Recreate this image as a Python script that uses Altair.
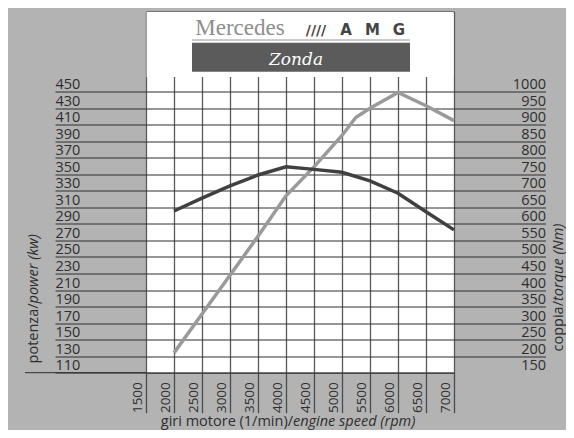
import altair as alt
import pandas as pd

# ---- data ----
rpm_power = [2000, 2500, 3000, 3500, 4000, 4500, 5000, 5250, 5500, 6000, 6500, 7000]
power_kw = [134, 181, 228, 275, 324, 359, 397, 419, 430, 449, 433, 415]
rpm_torque = [2000, 2500, 3000, 3500, 4000, 4500, 5000, 5500, 6000, 6500, 7000]
torque_nm = [639, 678, 715, 748, 773, 765, 756, 730, 693, 637, 582]

power_ticks = list(range(110, 451, 20))
torque_ticks = list(range(150, 1001, 50))
rpm_ticks = list(range(1500, 7001, 500))

power_df = pd.DataFrame({"rpm": rpm_power, "power": power_kw})
torque_df = pd.DataFrame({"rpm": rpm_torque, "torque": torque_nm})
one = pd.DataFrame({"a": [1]})

BG = "#b3b3b3"
INK = "#2e2e2e"
FONT = "Open Sans"

x_scale = alt.Scale(domain=[1500, 7000], nice=False, zero=False)
p_scale = alt.Scale(domain=[110, 547], nice=False, zero=False)
t_scale = alt.Scale(domain=[150, 1242.5], nice=False, zero=False)


def make_x_axis():
    return alt.Axis(values=rpm_ticks, format="d", grid=True, gridColor="#5a5a5a", gridWidth=1.3,
                    domain=False, title=None, tickCount=len(rpm_ticks),
                    tickSize=40, tickColor="#4a4a4a", tickWidth=1.3,
                    labelAngle=270, labelPadding=-31, labelOffset=-8.5,
                    labelFont=FONT, labelFontSize=13.5, labelColor=INK,
                    labelFlush=False, labelOverlap=False)


left_axis = alt.Axis(values=power_ticks, format="d", grid=True, gridColor=INK, gridWidth=1,
                     domain=False, title=None, tickSize=91, tickColor=INK,
                     labelAlign="left", labelBaseline="bottom", labelPadding=0,
                     labelFont=FONT, labelFontSize=14.5, labelColor=INK,
                     labelOverlap=False, labelFlush=False)
right_axis = alt.Axis(orient="right", values=torque_ticks, format="d", grid=False, domain=False,
                      title=None, tickSize=91.5,
                      tickColor={"condition": {"test": "datum.value == 150", "value": "transparent"},
                                 "value": INK},
                      labelAlign="right", labelBaseline="bottom", labelPadding=0,
                      labelFont=FONT, labelFontSize=14.5, labelColor=INK,
                      labelOverlap=False, labelFlush=False)

power_line = alt.Chart(power_df).mark_line(color="#9a9a9a", strokeWidth=3.5).encode(
    x=alt.X("rpm:Q", scale=x_scale, axis=make_x_axis()),
    y=alt.Y("power:Q", scale=p_scale, axis=left_axis),
)

torque_line = alt.Chart(torque_df).mark_line(color="#404040", strokeWidth=3.5).encode(
    x=alt.X("rpm:Q", scale=x_scale, axis=make_x_axis()),
    y=alt.Y("torque:Q", scale=t_scale, axis=right_axis),
)


def txt(s, x, y, **kw):
    return alt.Chart(one).mark_text(text=s, **kw).encode(x=alt.value(x), y=alt.value(y))


base_kw = dict(font=FONT, fontSize=14.5, color=INK, baseline="alphabetic")

annotations = [
    # white header area above the grid (vertical grid starts below the logo)
    alt.Chart(one).mark_rect(color="white").encode(
        x=alt.value(0.6), x2=alt.value(307.4), y=alt.value(0.6), y2=alt.value(65.5)),
    # bottom-left extended baseline
    alt.Chart(one).mark_rule(color=INK, strokeWidth=1).encode(
        x=alt.value(-121), x2=alt.value(0), y=alt.value(361.2)),
    # axis titles
    txt("giri motore (1/min)/", 147, 414.5, align="right", **base_kw),
    txt("engine speed (rpm)", 147, 414.5, align="left", fontStyle="italic", **base_kw),
    txt("potenza/", -108.5, 292, angle=270, align="right", **base_kw),
    txt("power (kw)", -108.5, 292, angle=270, align="left", fontStyle="italic", **base_kw),
    txt("coppia/", 417, 289.5, angle=270, align="right", **base_kw),
    txt("torque (Nm)", 417, 289.5, angle=270, align="left", fontStyle="italic", **base_kw),
    # logo
    txt("Mercedes", 94, 23.5, align="center", baseline="alphabetic",
        font="Liberation Serif", fontSize=23, color="#8e8e8e"),
    txt("////", 170, 23.5, align="center", baseline="alphabetic",
        font="DejaVu Sans", fontWeight="bold", fontSize=14, color="#444"),
    txt("A", 200, 23.5, align="center", baseline="alphabetic",
        font="DejaVu Sans", fontWeight="bold", fontSize=15, color="#444"),
    txt("M", 226.5, 23.5, align="center", baseline="alphabetic",
        font="DejaVu Sans", fontWeight="bold", fontSize=15, color="#444"),
    txt("G", 253, 23.5, align="center", baseline="alphabetic",
        font="DejaVu Sans", fontWeight="bold", fontSize=15, color="#444"),
    alt.Chart(one).mark_rule(color="#999", strokeWidth=1).encode(
        x=alt.value(46), x2=alt.value(264), y=alt.value(28.5)),
    alt.Chart(one).mark_rect(color="#5b5b5b").encode(
        x=alt.value(46), x2=alt.value(264), y=alt.value(31.2), y2=alt.value(60.2)),
    txt("Zonda", 150, 53, align="center", baseline="alphabetic",
        font="DejaVu Serif", fontStyle="italic", fontSize=17, color="white"),
]

left_group = alt.layer(power_line, *annotations)

chart = alt.layer(left_group, torque_line).resolve_scale(y="independent").properties(
    width=308,
    height=361.2,
    autosize=alt.AutoSizeParams(type="none"),
    padding={"left": 138, "top": 3.5, "right": 112, "bottom": 57.3},
).configure(background=BG).configure_view(fill="white", stroke="#333", strokeWidth=1)

chart.save("out.html", embed_options={"renderer": "svg", "actions": False})
